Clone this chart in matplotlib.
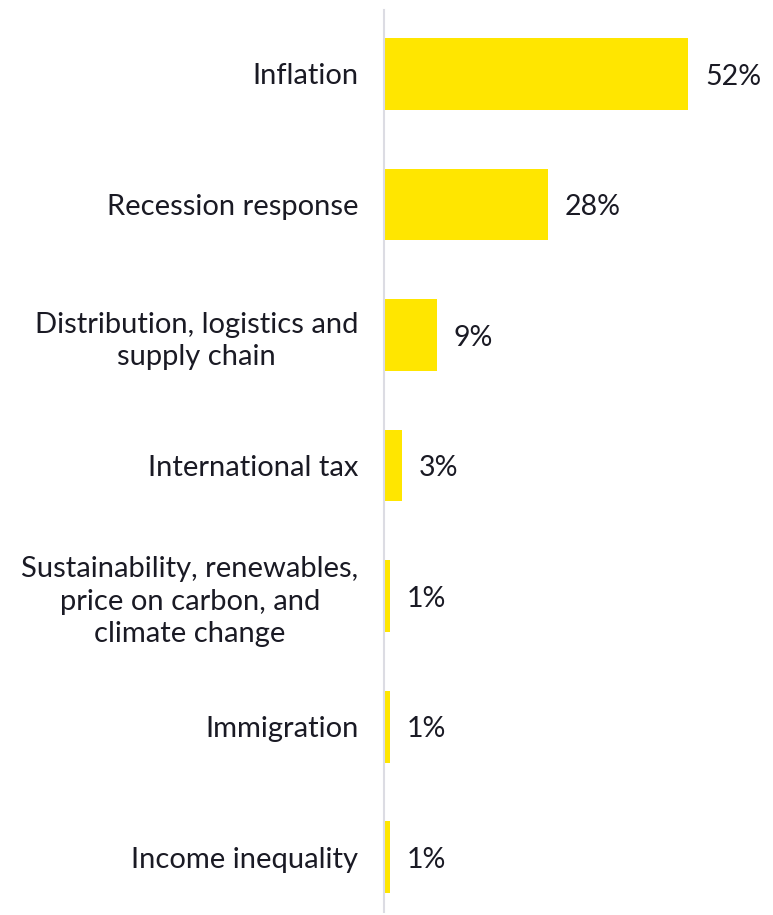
import matplotlib.pyplot as plt

# Issue categories and share of respondents (%)
categories = ['Inflation', 'Recession response', 'Distribution, logistics and\nsupply chain',
              'International tax', 'Sustainability, renewables,\nprice on carbon, and\nclimate change',
              'Immigration', 'Income inequality']
values = [52, 28, 9, 3, 1, 1, 1]

W, H = 773, 915
fig = plt.figure(figsize=(W / 100, H / 100), dpi=100)
ax = fig.add_axes([384 / W, 3 / H, (W - 384) / W, 902 / H])

pos = range(len(categories))
ax.barh(pos, values, height=0.55, color='#FFE600')

for p, v in zip(pos, values):
    ax.text(v + 2.9, p + 0.02, f'{v}%', va='center', ha='left', fontsize=20.5,
            family='Lato', color='#1a1a24')

ax.set_yticks(list(pos))
ax.set_yticklabels(categories, fontsize=21, family='Lato', color='#1a1a24',
                   multialignment='center', linespacing=1.3)
ax.tick_params(axis='y', length=0, pad=18.5)
ax.set_ylim(6.42, -0.49)
ax.set_xlim(0, (W - 384) / 5.85)
ax.set_xticks([])

for s in ['top', 'right', 'bottom']:
    ax.spines[s].set_visible(False)
ax.spines['left'].set_color('#DCDCE3')
ax.spines['left'].set_linewidth(1.5)

plt.savefig('out.png', dpi=100)
